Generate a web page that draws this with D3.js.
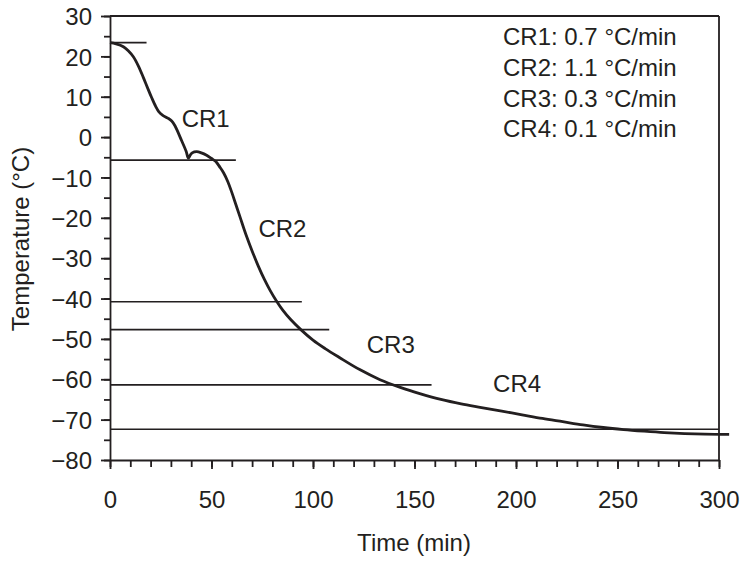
<!DOCTYPE html>
<html><head><meta charset="utf-8">
<script src="https://cdn.jsdelivr.net/npm/d3@7"></script>
<style>
body{margin:0;background:#fff;}
text{font-family:"Liberation Sans",Arial,Helvetica,sans-serif;fill:#231f20;}
</style></head>
<body><svg id="c" width="755" height="568"></svg>
<script>
// Data
const timeMin = [0,3,6.6,9,11.5,14,16.4,18.5,20.5,22.5,24,26,28.5,30.4,32,35.3,37.5,38.6,39.5,40.5,42.7,45,47.6,50,52,54.2,56,58,60,62,64,67,70,73,76,79,82,85,89,94,100,106,113,123,133,143,153,163,173,183,193,203,213,223,233,243,253,263,273,283,293,305];
const tempC = [23.4,23.1,22.4,21.4,19.9,17.6,14.8,12.2,9.8,7.6,6.3,5.4,4.7,4.0,2.8,-0.9,-3.5,-5.2,-4.5,-3.9,-3.6,-3.9,-4.5,-5.3,-6.0,-7.5,-8.9,-11.0,-13.7,-16.7,-19.7,-24.2,-28.2,-31.9,-35.2,-38.1,-40.6,-42.8,-45.2,-47.7,-50.3,-52.4,-54.6,-57.6,-60.1,-62.0,-63.6,-65.0,-66.1,-67.0,-67.9,-68.8,-69.7,-70.5,-71.3,-71.95,-72.45,-72.85,-73.2,-73.45,-73.6,-73.65];
const refTemp = [23.4,-5.7,-40.8,-47.7,-61.4,-72.4];
const refEnd = [18,62,94.5,108,158.4,300];
const regionLabels = ["CR1","CR2","CR3","CR4"];
const regionT = [35.3,73.1,126.5,188.7];
const regionTemp = [2.55,-24.8,-53.4,-63.1];
const legendLines = ["CR1: 0.7 °C/min","CR2: 1.1 °C/min","CR3: 0.3 °C/min","CR4: 0.1 °C/min"];
const xTicks = [0,50,100,150,200,250,300];
const yTicks = [30,20,10,0,-10,-20,-30,-40,-50,-60,-70,-80];

const W=755,H=568, m={l:110,r:36,t:16,b:108};
const FS=24;
const svg=d3.select("#c");
const x=d3.scaleLinear().domain([0,300]).range([m.l,W-m.r]);
const y=d3.scaleLinear().domain([-80,30]).range([H-m.b,m.t]);
const ink="#231f20";

// minor ticks
svg.append("g").attr("transform",`translate(0,${H-m.b})`)
  .call(d3.axisBottom(x).tickValues(d3.range(0,301,10)).tickSize(7).tickFormat(""))
  .call(g=>{g.select(".domain").remove();g.selectAll("line").attr("stroke",ink).attr("stroke-width",1.8);});
svg.append("g").attr("transform",`translate(${m.l},0)`)
  .call(d3.axisLeft(y).tickValues(d3.range(-80,31,5)).tickSize(6).tickFormat(""))
  .call(g=>{g.select(".domain").remove();g.selectAll("line").attr("stroke",ink).attr("stroke-width",1.8);});

// major axes
const xa=svg.append("g").attr("transform",`translate(0,${H-m.b})`)
  .call(d3.axisBottom(x).tickValues(xTicks).tickSize(9).tickPadding(22).tickSizeOuter(0));
const ya=svg.append("g").attr("transform",`translate(${m.l},0)`)
  .call(d3.axisLeft(y).tickValues(yTicks).tickSize(9).tickPadding(9).tickSizeOuter(0));
[xa,ya].forEach(g=>{
  g.select(".domain").attr("stroke",ink).attr("stroke-width",1.8);
  g.selectAll("line").attr("stroke",ink).attr("stroke-width",1.8);
  g.selectAll("text").attr("font-size",FS).attr("font-family","Liberation Sans, Arial, sans-serif").attr("fill",ink);
});
ya.selectAll("text").attr("dy","0.36em");

// frame top & right
svg.append("line").attr("x1",x(0)).attr("x2",x(300)).attr("y1",y(30)).attr("y2",y(30)).attr("stroke",ink).attr("stroke-width",1.8);
svg.append("line").attr("x1",x(300)).attr("x2",x(300)).attr("y1",y(30)).attr("y2",y(-80)).attr("stroke",ink).attr("stroke-width",1.8);

// reference lines
svg.append("g").selectAll("line").data(refTemp).join("line")
  .attr("x1",x(0)).attr("x2",(d,i)=>x(refEnd[i]))
  .attr("y1",d=>y(d)).attr("y2",d=>y(d))
  .attr("stroke",ink).attr("stroke-width",1.6);

// curve
const pts=timeMin.map((t,i)=>[t,tempC[i]]);
svg.append("path").datum(pts)
  .attr("d",d3.line().x(d=>x(d[0])).y(d=>y(d[1])).curve(d3.curveCatmullRom.alpha(0.5)))
  .attr("fill","none").attr("stroke",ink).attr("stroke-width",2.8).attr("stroke-linejoin","round");

// region labels
svg.append("g").selectAll("text").data(regionLabels).join("text")
  .attr("x",(d,i)=>x(regionT[i])).attr("y",(d,i)=>y(regionTemp[i]))
  .attr("font-size",FS).text(d=>d);

// legend
svg.append("g").selectAll("text").data(legendLines).join("text")
  .attr("x",503).attr("y",(d,i)=>45+i*30.8).attr("font-size",FS).text(d=>d);

// axis titles
svg.append("text").attr("x",414).attr("y",551).attr("text-anchor","middle").attr("font-size",FS).text("Time (min)");
svg.append("text").attr("transform",`translate(29,239) rotate(-90)`).attr("text-anchor","middle").attr("font-size",FS).text("Temperature (°C)");
</script></body></html>
